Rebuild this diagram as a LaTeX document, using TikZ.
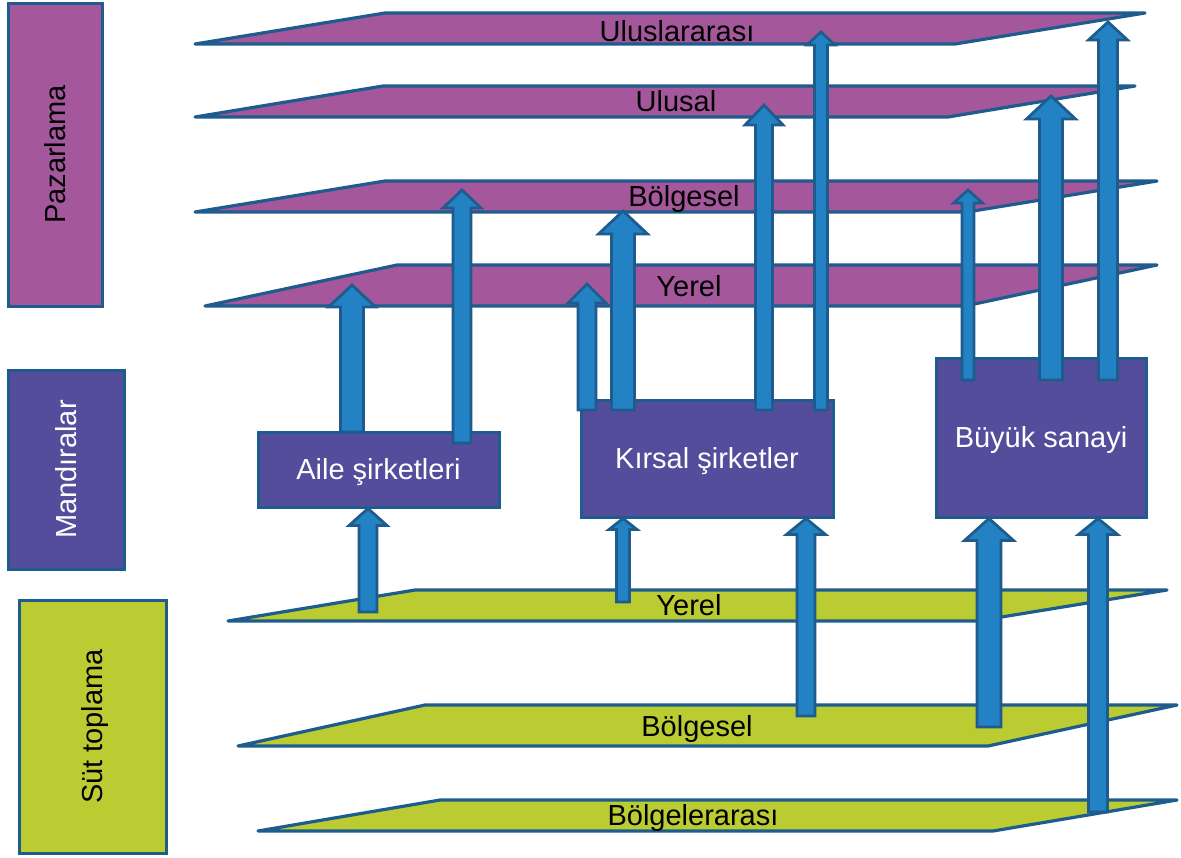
\documentclass[tikz,border=0pt]{standalone}
\usepackage{fontspec}
\setmainfont{Liberation Sans}
\usepackage{tikz}
\usetikzlibrary{calc}
\definecolor{edgeblue}{RGB}{30,92,142}
\definecolor{marketpink}{RGB}{165,87,156}
\definecolor{dairypurple}{RGB}{83,77,155}
\definecolor{milkgreen}{RGB}{187,204,51}
\definecolor{arrowblue}{RGB}{35,130,196}
\tikzset{
  basebox/.style={rectangle,draw=edgeblue,line width=1.5pt,inner sep=0pt,
    font=\fontsize{14.5}{17}\selectfont,text height=10.4pt,text depth=0pt},
  levelbox/.style={basebox,rotate=90},
  firmbox/.style={basebox,fill=dairypurple,text=white},
  plane/.style={draw=edgeblue,line width=1.6pt,line join=round},
  pinkplane/.style={plane,fill=marketpink},
  greenplane/.style={plane,fill=milkgreen},
  planelbl/.style={anchor=base,inner sep=0pt,font=\fontsize{14.5}{17}\selectfont},
  blockarrow/.style={draw=edgeblue,fill=arrowblue,line width=1.4pt}
}
% vertical block arrow: foot, tip, shaft width, head width, head length (px)
\newcommand{\blockarr}[5]{%
  \filldraw[blockarrow] let \p1=#1, \p2=#2 in
    (\x1-#3*0.25pt,\y1) -- (\x1-#3*0.25pt,\y2-#5*0.5pt) -- (\x1-#4*0.25pt,\y2-#5*0.5pt)
    -- (\x1,\y2) -- (\x1+#4*0.25pt,\y2-#5*0.5pt) -- (\x1+#3*0.25pt,\y2-#5*0.5pt)
    -- (\x1+#3*0.25pt,\y1) -- cycle;}

\begin{document}
\begin{tikzpicture}[x=0.5pt,y=-0.5pt]
  \useasboundingbox (0,0) rectangle (1181,857);

  %% Left column: the three levels
  \node[levelbox,fill=marketpink,minimum width=151.5pt,minimum height=47pt] (pazarlama)
    at (55,154.5) {Pazarlama};
  \node[levelbox,fill=dairypurple,text=white,minimum width=99.5pt,minimum height=58pt] (mandira)
    at (66,469.5) {Mandıralar};
  \node[levelbox,fill=milkgreen,minimum width=126.5pt,minimum height=73.5pt] (sut)
    at (92.5,726.5) {Süt toplama};

  %% Market planes
  \draw[pinkplane] (195,44) -- (385,13) -- (1145,13) -- (955,44) -- cycle;
  \node[planelbl] (uluslararasi) at (677,41.5) {Uluslararası};
  \draw[pinkplane] (195,117) -- (383,86) -- (1135,86) -- (948,117) -- cycle;
  \node[planelbl] (ulusal) at (676,111.5) {Ulusal};
  \draw[pinkplane] (195,212) -- (385,181) -- (1157,181) -- (967,212) -- cycle;
  \node[planelbl] (pbolgesel) at (684,206) {Bölgesel};
  \draw[pinkplane] (205,306) -- (397,265) -- (1157,265) -- (965,306) -- cycle;
  \node[planelbl] (pyerel) at (689,296) {Yerel};

  %% Milk collection planes
  \draw[greenplane] (228,621) -- (415,590) -- (1167,590) -- (977,621) -- cycle;
  \node[planelbl] (gyerel) at (689,615.5) {Yerel};
  \draw[greenplane] (238,746) -- (425,705) -- (1177,705) -- (988,746) -- cycle;
  \node[planelbl] (gbolgesel) at (697,736.5) {Bölgesel};
  \draw[greenplane] (258,831) -- (440,800) -- (1177,800) -- (993,831) -- cycle;
  \node[planelbl] (bolgelerarasi) at (693,825.5) {Bölgelerarası};

  %% Dairy types
  \node[firmbox,minimum width=120.5pt,minimum height=37.5pt] (aile) at (378.5,469.5) {Aile şirketleri};
  \node[firmbox,minimum width=126pt,minimum height=58.5pt] (kirsal) at (707,458.5) {Kırsal şirketler};
  \node[firmbox,minimum width=105pt,minimum height=79.5pt] (buyuk) at (1041,437.5) {Büyük sanayi};

  %% Arrows from the dairies up to the markets
  \foreach \nm/\px/\yf/\yt/\sw/\hw/\hl in {
      af1/352/432/285/23/47/22, af2/462/443/190/18/38/18,
      kf1/587/410/284/18/38/19, kf2/623/410/211/23/49/23,
      kf3/764/410/105/17/38/20, kf4/821/410/32/13/28/13,
      bf1/968/380/190/12/29/13, bf2/1051/380/96/23/49/23,
      bf3/1108/380/22/19/39/18}{
    \coordinate (\nm-foot) at (\px,\yf);
    \coordinate (\nm-tip) at (\px,\yt);
    \blockarr{(\nm-foot)}{(\nm-tip)}{\sw}{\hw}{\hl}
  }

  %% Arrows from milk collection up to the dairies
  \coordinate (sutA) at (368,612);
  \coordinate (sutK1) at (623,602);
  \coordinate (sutK2) at (806,716);
  \coordinate (sutB1) at (989,727);
  \coordinate (sutB2) at (1098,812);
  \blockarr{(sutA)}{(aile.south -| sutA)}{18}{38}{17}
  \blockarr{(sutK1)}{(kirsal.south -| sutK1)}{13}{28}{11}
  \blockarr{(sutK2)}{(kirsal.south -| sutK2)}{18}{39}{16}
  \blockarr{(sutB1)}{(buyuk.south -| sutB1)}{24}{49}{22}
  \blockarr{(sutB2)}{(buyuk.south -| sutB2)}{19}{39}{16}
\end{tikzpicture}
\end{document}
